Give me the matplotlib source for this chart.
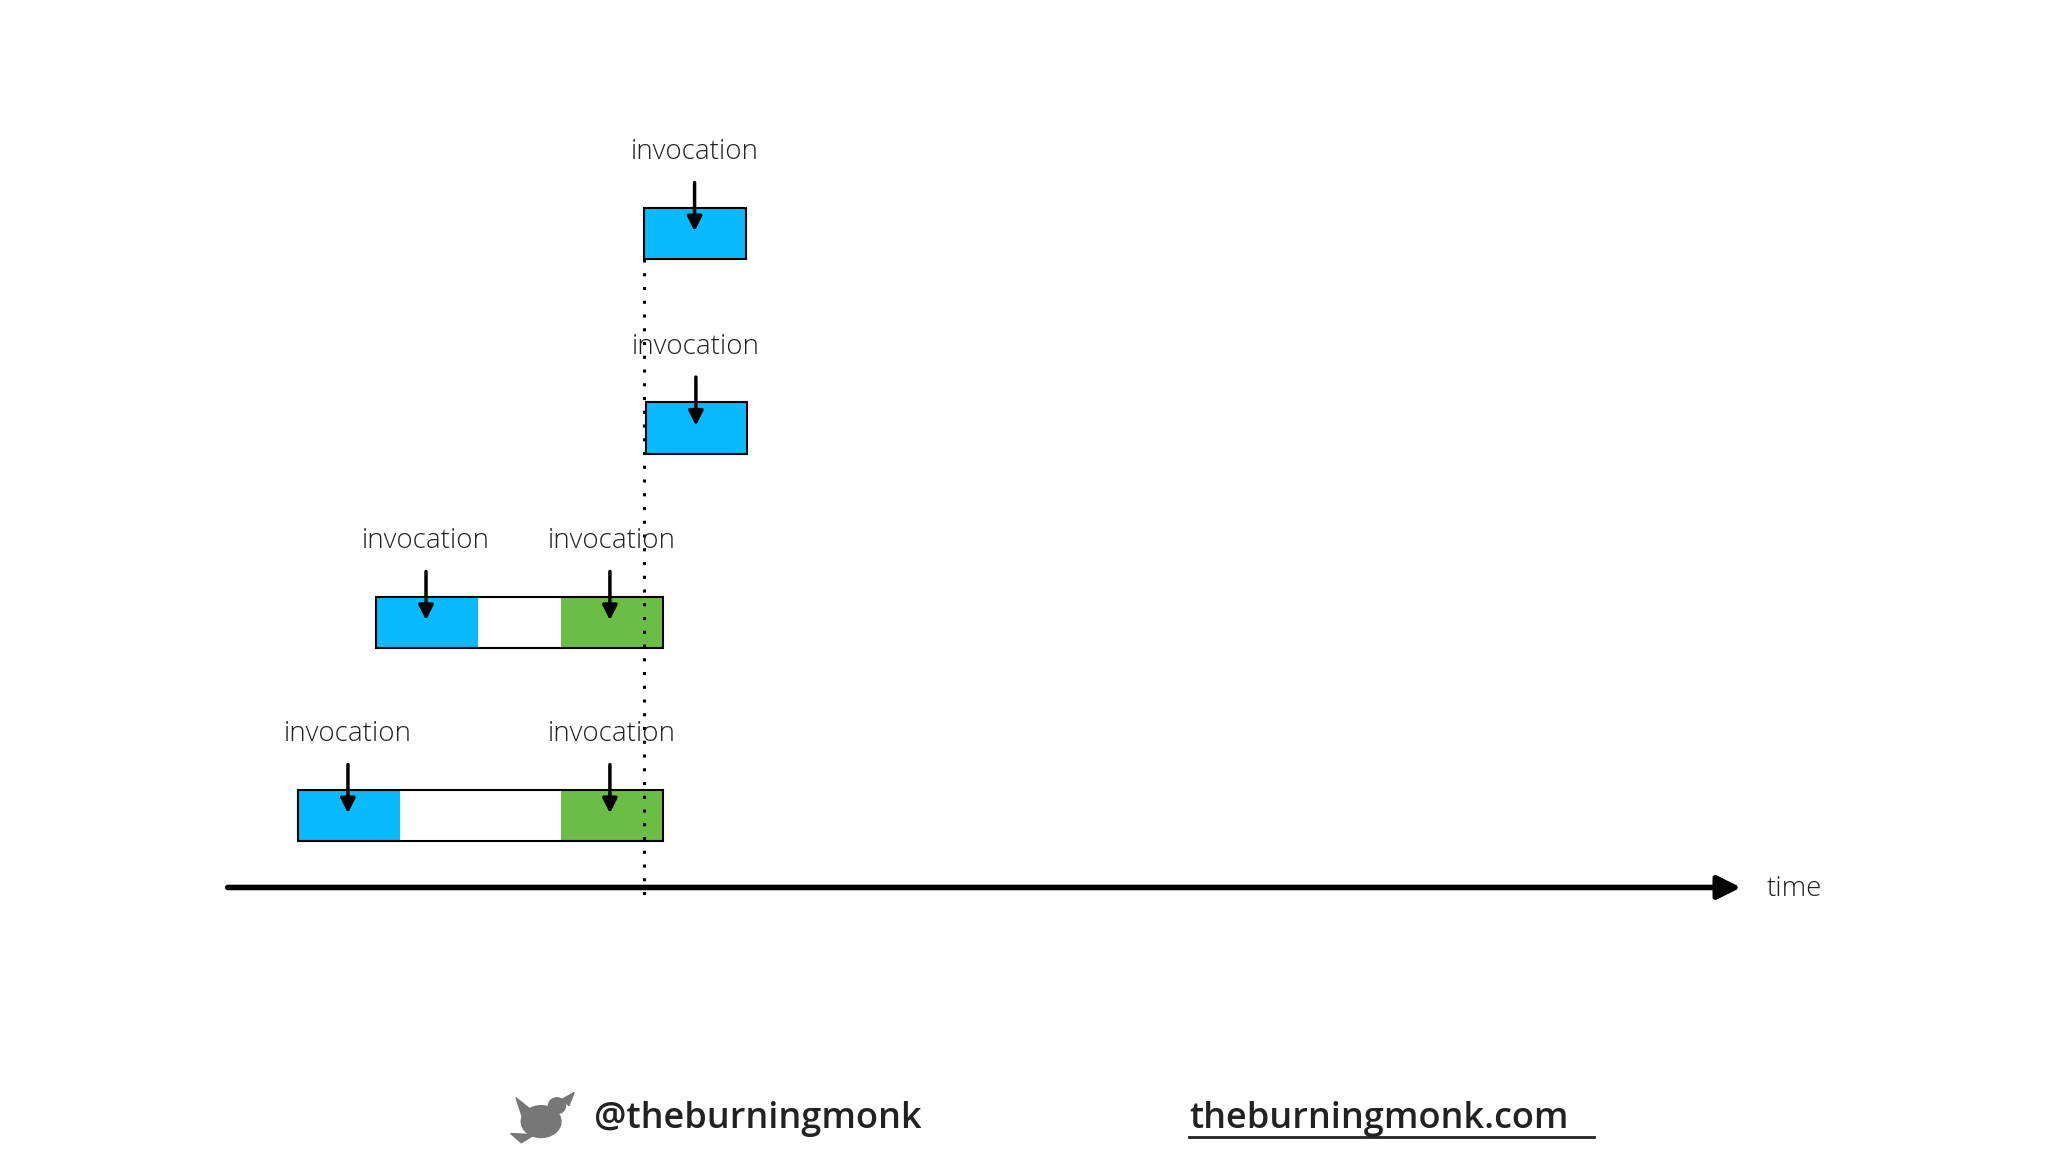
import matplotlib.pyplot as plt
from matplotlib.patches import Rectangle, Polygon, Ellipse

# timeline layout in slide units (x = time, y = row top), 1548 x 871 canvas
row_tops = [157, 304, 451, 597]
row_segments = [
    [(487, 564, "blue")],
    [(488, 565, "blue")],
    [(284, 361, "blue"), (361, 424, "white"), (424, 501, "green")],
    [(225, 302, "blue"), (302, 424, "white"), (424, 501, "green")],
]
invocation_x = [[525], [526], [322, 461], [263, 461]]
label_x = [[525], [526], [322, 462], [263, 462]]
box_h = 39
cutoff_x = 487

colors = {"blue": "#0ABAFF", "green": "#6CBD45", "white": "white"}

plt.rcParams["font.family"] = ["Open Sans", "DejaVu Sans"]
fig = plt.figure(figsize=(20.48, 11.52), dpi=100)
ax = fig.add_axes([0, 0, 1, 1])
ax.set_xlim(0, 1548)
ax.set_ylim(871, 0)
ax.axis("off")

for top, segs, arrows, labels in zip(row_tops, row_segments, invocation_x, label_x):
    for x0, x1, c in segs:
        ax.add_patch(Rectangle((x0, top), x1 - x0, box_h, facecolor=colors[c], edgecolor="none"))
    start, end = segs[0][0], segs[-1][1]
    ax.add_patch(Rectangle((start, top), end - start, box_h, fill=False, edgecolor="black", lw=1.5))
    for x in arrows:
        ax.annotate("", xy=(x, top + 20), xytext=(x, top - 21),
                    arrowprops=dict(arrowstyle="-|>", lw=2.5, color="black", mutation_scale=22))
    for x in labels:
        ax.text(x, top - 42, "invocation", ha="center", va="center", fontsize=20,
                color="#222222", fontweight="light")

# dotted cut-off line
ax.plot([cutoff_x, cutoff_x], [196, 682], color="black", lw=2.2, ls=(0, (1, 3.5)))

# time axis
ax.annotate("", xy=(1318, 671), xytext=(170, 671),
            arrowprops=dict(arrowstyle="-|>", lw=4, color="black", mutation_scale=35))
ax.text(1335, 672, "time", ha="left", va="center", fontsize=20, color="#222222", fontweight="light")

# footer
grey = "#777777"
ax.add_patch(Ellipse((409, 848), 30, 24, color=grey))
ax.add_patch(Ellipse((421, 836), 13, 12, color=grey))
ax.add_patch(Polygon([(390, 830), (405, 842), (396, 848)], color=grey))
ax.add_patch(Polygon([(425, 831), (434, 826), (430, 836)], color=grey))
ax.add_patch(Polygon([(386, 857), (404, 858), (394, 864)], color=grey))
ax.text(449, 846, "@theburningmonk", ha="left", va="center", fontsize=26, color="#222222",
        fontweight="semibold", fontstretch="condensed")
ax.text(899, 846, "theburningmonk.com", ha="left", va="center", fontsize=26, color="#222222",
        fontweight="semibold")
ax.plot([899, 1205], [860, 860], color="#222222", lw=2)

fig.savefig("out.png", dpi=100, facecolor="white")
